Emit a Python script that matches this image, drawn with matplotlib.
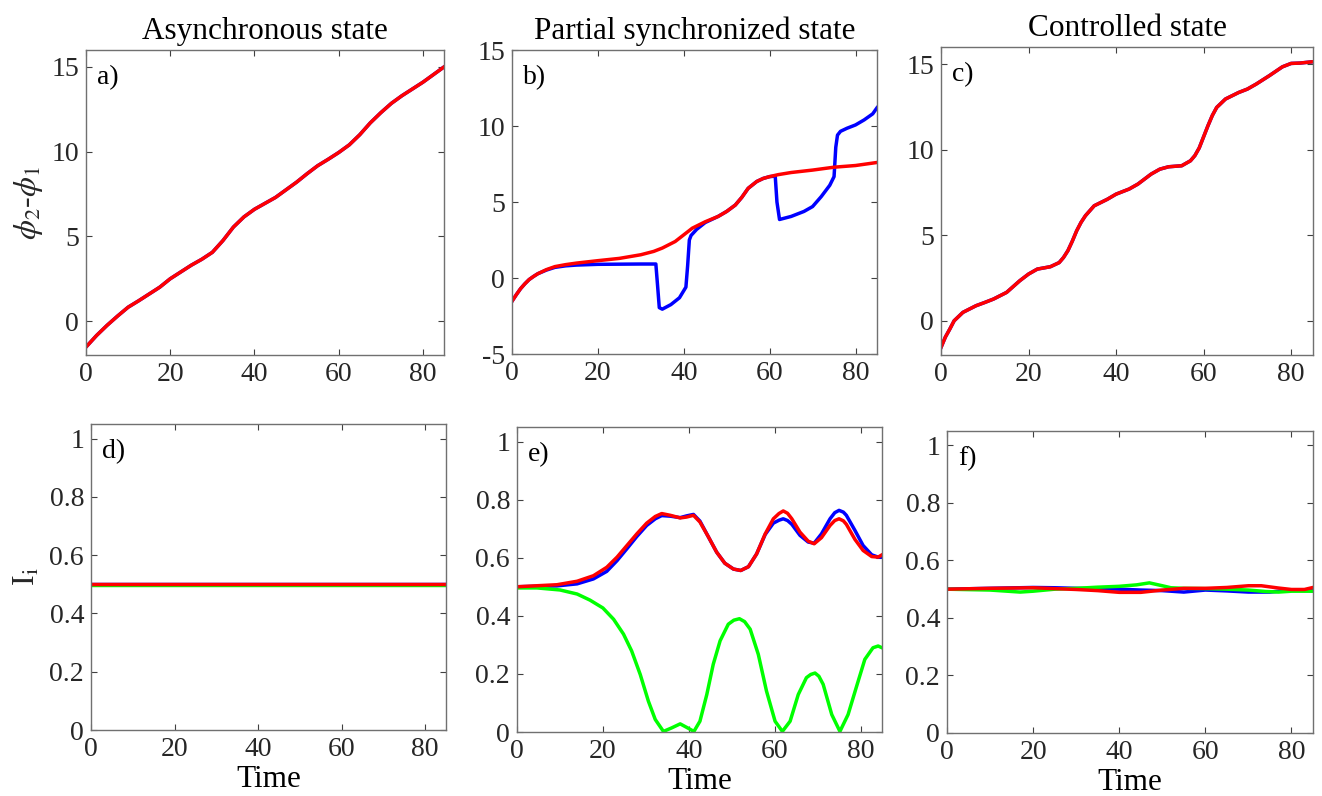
import numpy as np
import matplotlib
matplotlib.use("Agg")
import matplotlib.pyplot as plt

plt.rcParams['font.family'] = ['Liberation Serif', 'DejaVu Serif']
plt.rcParams['mathtext.fontset'] = 'stix'
plt.rcParams['axes.unicode_minus'] = False

# ---- panel a: asynchronous phase difference (blue and red coincide)
t_a = [0, 2.5, 5, 7.5, 10, 12.5, 15, 17.5, 20, 22.5, 25, 27.5, 30, 32.5, 35,
       37.5, 40, 42.5, 45, 47.5, 50, 52.5, 55, 57.5, 60, 62.5, 65, 67.5, 70,
       72.5, 75, 77.5, 80, 82.5, 85]
phi_a = [-1.53, -0.85, -0.25, 0.3, 0.82, 1.2, 1.6, 2.0, 2.5, 2.9, 3.3, 3.65,
         4.06, 4.75, 5.55, 6.15, 6.6, 6.95, 7.3, 7.75, 8.2, 8.7, 9.17, 9.55,
         9.95, 10.4, 11.0, 11.7, 12.3, 12.85, 13.3, 13.7, 14.1, 14.55, 15.0]

# ---- panel b: partial synchronization
t_b_red = [0, 1, 2, 3, 4, 5, 6, 8, 10, 12.5, 15, 20, 25, 30, 33, 35, 38, 40,
           42, 45, 48, 50, 52, 53.5, 55, 57, 58.5, 60, 62, 65, 70, 75, 80, 85]
phi_b_red = [-1.53, -1.1, -0.7, -0.38, -0.1, 0.1, 0.28, 0.55, 0.75, 0.88, 0.98,
             1.14, 1.29, 1.53, 1.75, 1.97, 2.4, 2.84, 3.28, 3.7, 4.05, 4.38,
             4.8, 5.3, 5.9, 6.35, 6.55, 6.67, 6.8, 6.94, 7.1, 7.29, 7.4, 7.6]
t_b_blue = [0, 1, 2, 3, 4, 5, 6, 8, 10, 12.5, 15, 20, 25, 30, 33.5, 33.9, 34.3,
            35, 37, 39, 40.5, 40.9, 41.3, 41.7, 43, 45, 48, 50, 52, 53.5, 55,
            57, 58.5, 60, 61.3, 61.7, 62.3, 65, 68, 70, 72, 74, 75, 75.4, 75.8,
            76.5, 78, 80, 82, 84, 85]
phi_b_blue = [-1.53, -1.1, -0.7, -0.38, -0.1, 0.1, 0.28, 0.52, 0.7, 0.8, 0.85,
              0.9, 0.91, 0.92, 0.92, -0.5, -1.95, -2.05, -1.75, -1.3, -0.6, 0.8,
              2.5, 2.8, 3.2, 3.65, 4.05, 4.38, 4.8, 5.3, 5.9, 6.35, 6.55, 6.67,
              6.7, 5.0, 3.85, 4.05, 4.38, 4.7, 5.35, 6.1, 6.67, 8.6, 9.4, 9.65,
              9.85, 10.07, 10.4, 10.8, 11.2]

# ---- panel c: controlled state (blue and red coincide)
t_c = [0, 1, 2, 3, 5, 8, 10, 12, 15, 18, 20, 22, 25, 27, 28, 29, 30, 31, 32,
       33, 35, 38, 40, 43, 45, 48, 50, 52, 55, 57, 58, 59, 60, 61, 62, 63, 65,
       68, 70, 72, 75, 78, 80, 82, 85]
phi_c = [-1.56, -0.95, -0.49, 0.0, 0.49, 0.88, 1.07, 1.27, 1.66, 2.34, 2.73,
         3.02, 3.16, 3.4, 3.7, 4.1, 4.65, 5.26, 5.75, 6.14, 6.72, 7.1, 7.4, 7.7,
         7.99, 8.57, 8.86, 9.0, 9.06, 9.35, 9.65, 10.1, 10.75, 11.4, 12.0,
         12.47, 12.96, 13.34, 13.54, 13.83, 14.32, 14.84, 15.04, 15.06, 15.14]

# ---- panel d: constant currents
t_d = [0, 85]
I_d_blue = [0.5, 0.5]
I_d_green = [0.497, 0.497]
I_d_red = [0.501, 0.501]

# ---- panel e
t_e_red = [0, 9.3, 14, 17.8, 20.9, 23.3, 25.6, 27.9, 30.2, 32.2, 33.7, 35.7,
           38, 39.5, 41.1, 42.6, 44.6, 46.5, 48.4, 50.4, 52.1, 53.9, 55.8,
           57.8, 59.7, 61, 62, 63, 64, 65.9, 67.8, 69.2, 70.9, 72.9, 74, 75,
           76, 76.7, 78.7, 80.6, 82.6, 84.1, 85]
I_e_red = [0.5, 0.507, 0.519, 0.538, 0.567, 0.602, 0.642, 0.682, 0.719, 0.742,
           0.752, 0.746, 0.737, 0.74, 0.746, 0.723, 0.671, 0.619, 0.581, 0.561,
           0.556, 0.569, 0.613, 0.682, 0.734, 0.752, 0.761, 0.753, 0.734, 0.688,
           0.657, 0.648, 0.669, 0.711, 0.728, 0.734, 0.727, 0.715, 0.663, 0.625,
           0.604, 0.602, 0.61]
t_e_blue = [0, 9.3, 14, 17.8, 20.9, 23.3, 25.6, 27.9, 30.2, 32.2, 33.7, 35.7,
            38, 39.5, 41.1, 42.6, 44.6, 46.5, 48.4, 50.4, 52.1, 53.9, 55.8,
            57.8, 59.7, 61, 62, 63, 64, 65.9, 67.8, 69.2, 70.9, 72.9, 74, 75,
            76, 76.7, 78.7, 80.6, 82.6, 84.1, 85]
I_e_blue = [0.5, 0.503, 0.51, 0.527, 0.553, 0.59, 0.631, 0.673, 0.711, 0.734,
            0.745, 0.743, 0.738, 0.744, 0.749, 0.726, 0.671, 0.619, 0.581,
            0.561, 0.556, 0.569, 0.613, 0.68, 0.719, 0.729, 0.734, 0.728, 0.715,
            0.677, 0.654, 0.65, 0.682, 0.734, 0.755, 0.763, 0.757, 0.746, 0.694,
            0.642, 0.61, 0.602, 0.602]
t_e_green = [0, 4.65, 10, 14, 17, 20, 22.5, 24.8, 26.7, 28.7, 30.6, 32.2, 34.1,
             36, 38, 39.5, 41.2, 42.6, 44.2, 45.7, 47.3, 49.2, 50.5, 51.8, 53,
             54.3, 56.2, 58.1, 60.1, 61.8, 63.6, 65.5, 67.4, 68.4, 69.4, 70.3,
             71.3, 73.3, 75.2, 77.1, 79.1, 81, 82.9, 84.1, 85]
I_e_green = [0.496, 0.496, 0.489, 0.475, 0.454, 0.427, 0.388, 0.337, 0.279,
             0.198, 0.106, 0.043, 0.002, 0.014, 0.028, 0.016, 0.002, 0.037,
             0.129, 0.233, 0.314, 0.371, 0.385, 0.39, 0.38, 0.354, 0.267, 0.141,
             0.037, 0.002, 0.037, 0.129, 0.187, 0.198, 0.203, 0.192, 0.164,
             0.06, 0.002, 0.06, 0.158, 0.25, 0.29, 0.296, 0.29]

# ---- panel f
t_f_red = [0, 10, 20, 30, 35, 40, 45, 50, 55, 60, 65, 70, 73, 77, 80, 83, 85]
I_f_red = [0.5, 0.503, 0.505, 0.499, 0.495, 0.489, 0.489, 0.497, 0.503, 0.503,
           0.506, 0.512, 0.512, 0.504, 0.499, 0.499, 0.506]
t_f_blue = [0, 10, 20, 25, 30, 40, 45, 50, 55, 60, 65, 70, 75, 80, 85]
I_f_blue = [0.5, 0.503, 0.506, 0.505, 0.503, 0.5, 0.497, 0.495, 0.49, 0.497,
            0.494, 0.49, 0.49, 0.497, 0.495]
t_f_green = [0, 10, 17, 20, 25, 30, 35, 40, 44, 47, 50, 52, 55, 60, 65, 70, 74,
             77, 80, 85]
I_f_green = [0.5, 0.497, 0.49, 0.493, 0.5, 0.503, 0.507, 0.51, 0.515, 0.522,
             0.512, 0.505, 0.503, 0.502, 0.5, 0.497, 0.492, 0.49, 0.493, 0.493]

titles = ["Asynchronous state", "Partial synchronized state", "Controlled state"]
letters = ["a)", "b)", "c)", "d)", "e)", "f)"]

W, H = 1322, 796
# axes boxes in pixels: left, top, right, bottom
boxes = [(86, 50, 444, 355), (512, 50, 877, 354), (941, 47, 1313, 355),
         (91, 424, 446, 730), (517, 427, 882, 732), (947, 431, 1313, 733)]

fig = plt.figure(figsize=(W / 100, H / 100), dpi=100)
axes = []
for (l, t, r, b) in boxes:
    ax = fig.add_axes([l / W, 1 - b / H, (r - l) / W, (b - t) / H])
    axes.append(ax)

lw = 2.5
BLUE, GREEN, RED = (0, 0, 1), (0, 1, 0), (1, 0, 0)

axes[0].plot(t_a, phi_a, color=BLUE, lw=lw)
axes[0].plot(t_a, phi_a, color=RED, lw=lw)
axes[1].plot(t_b_blue, phi_b_blue, color=BLUE, lw=lw)
axes[1].plot(t_b_red, phi_b_red, color=RED, lw=lw)
axes[2].plot(t_c, phi_c, color=BLUE, lw=lw)
axes[2].plot(t_c, phi_c, color=RED, lw=lw)

axes[3].plot(t_d, I_d_blue, color=BLUE, lw=lw)
axes[3].plot(t_d, I_d_green, color=GREEN, lw=lw)
axes[3].plot(t_d, I_d_red, color=RED, lw=lw)
axes[4].plot(t_e_blue, I_e_blue, color=BLUE, lw=lw)
axes[4].plot(t_e_green, I_e_green, color=GREEN, lw=lw)
axes[4].plot(t_e_red, I_e_red, color=RED, lw=lw)
axes[5].plot(t_f_blue, I_f_blue, color=BLUE, lw=lw)
axes[5].plot(t_f_green, I_f_green, color=GREEN, lw=lw)
axes[5].plot(t_f_red, I_f_red, color=RED, lw=lw)

tick_fs = 20
for i, ax in enumerate(axes):
    ax.set_xlim(0, 85)
    ax.set_xticks([0, 20, 40, 60, 80])
    if i < 3:
        if i == 1:
            ax.set_ylim(-5, 15)
            ax.set_yticks([-5, 0, 5, 10, 15])
        else:
            ax.set_ylim(-2, 16)
            ax.set_yticks([0, 5, 10, 15])
        ax.set_title(titles[i], fontsize=22.5, pad=8)
    else:
        ax.set_ylim(0, 1.05)
        ax.set_yticks([0, 0.2, 0.4, 0.6, 0.8, 1])
        ax.set_yticklabels(["0", "0.2", "0.4", "0.6", "0.8", "1"])
        ax.set_xlabel("Time", fontsize=22.5, labelpad=2)
    for s in ax.spines.values():
        s.set_color('#707070')
        s.set_linewidth(1.0)
    ax.tick_params(direction='in', length=4, width=0.8, color='#404040',
                   top=True, right=True, labelsize=tick_fs,
                   labelcolor='#262626', pad=5)
    ax.text(0.03, 0.91, letters[i], transform=ax.transAxes, fontsize=20,
            va='center', ha='left', color='black')

axes[0].set_ylabel(r'$\phi_2$-$\phi_1$', fontsize=23, color='#262626')
axes[0].yaxis.set_label_coords(-0.115, 0.5)
axes[3].set_ylabel(r'I$_{\mathrm{i}}$', fontsize=23, color='#262626')
axes[3].yaxis.set_label_coords(-0.14, 0.5)

fig.savefig("out.png", dpi=100)
